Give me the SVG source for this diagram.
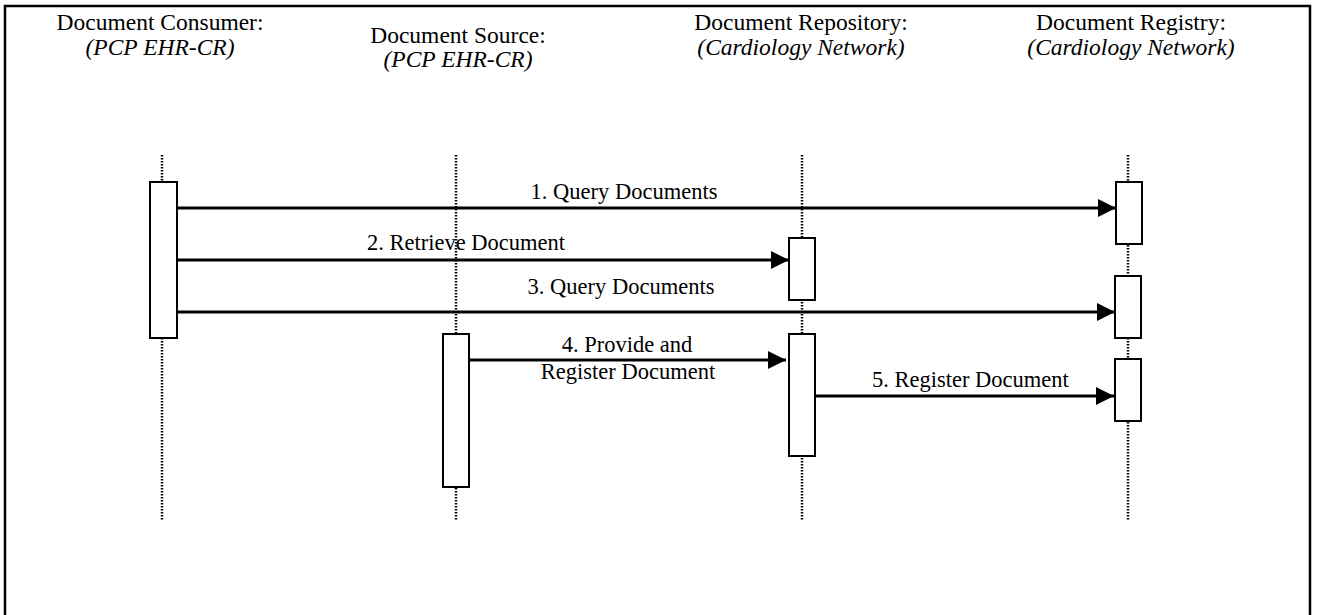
<svg xmlns="http://www.w3.org/2000/svg" width="1318" height="615" viewBox="0 0 1318 615">
<style>
.hd{font-family:"Liberation Serif","Times New Roman",serif;font-size:23.5px;fill:#000;text-anchor:middle}
.it{font-style:italic}
.lb{font-family:"Liberation Serif","Times New Roman",serif;font-size:22.5px;fill:#000}
.life{stroke:#000;stroke-width:2.5;stroke-dasharray:1.6 1.4;fill:none}
.act{fill:#fff;stroke:#000;stroke-width:2}
.msg{stroke:#000;stroke-width:3;fill:none;marker-end:url(#ah)}
</style>
<defs>
<marker id="ah" markerUnits="userSpaceOnUse" viewBox="0 0 18 18" refX="18" refY="9" markerWidth="18" markerHeight="18" orient="auto">
<path d="M0,0 L18,9 L0,18 z" fill="#000"/>
</marker>
</defs>
<rect width="1318" height="615" fill="#fff"/>
<path d="M5,615 V6 H1310 V615" fill="none" stroke="#000" stroke-width="2.5"/>

<g id="consumer">
<text class="hd" x="160" y="30">Document Consumer:</text>
<text class="hd it" x="160" y="55">(PCP EHR-CR)</text>
<line class="life" x1="162" y1="155" x2="162" y2="520"/>
<rect class="act" x="150" y="182" width="27" height="156"/>
</g>
<g id="source">
<text class="hd" x="458" y="43">Document Source:</text>
<text class="hd it" x="458" y="67">(PCP EHR-CR)</text>
<line class="life" x1="456" y1="155" x2="456" y2="520"/>
<rect class="act" x="443" y="334" width="26" height="153"/>
</g>
<g id="repository">
<text class="hd" x="801" y="30">Document Repository:</text>
<text class="hd it" x="801" y="55">(Cardiology Network)</text>
<line class="life" x1="802" y1="155" x2="802" y2="520"/>
<rect class="act" x="789" y="238" width="26" height="62"/>
<rect class="act" x="789" y="334" width="26" height="122"/>
</g>
<g id="registry">
<text class="hd" x="1131" y="30">Document Registry:</text>
<text class="hd it" x="1131" y="55">(Cardiology Network)</text>
<line class="life" x1="1128" y1="155" x2="1128" y2="520"/>
<rect class="act" x="1116" y="182" width="26" height="62"/>
<rect class="act" x="1115" y="276" width="26" height="62"/>
<rect class="act" x="1115" y="359" width="26" height="62"/>
</g>

<g id="connectors">
<line class="msg" x1="177" y1="208" x2="1116" y2="208"/>
<text class="lb" x="624" y="199" text-anchor="middle">1. Query Documents</text>
<line class="msg" x1="177" y1="260" x2="789" y2="260"/>
<text class="lb" x="367" y="250">2. Retrieve Document</text>
<line class="msg" x1="177" y1="312" x2="1115" y2="312"/>
<text class="lb" x="621" y="294" text-anchor="middle">3. Query Documents</text>
<line class="msg" x1="469" y1="360" x2="786" y2="360"/>
<text class="lb" x="627" y="352" text-anchor="middle">4. Provide and</text>
<text class="lb" x="628" y="379" text-anchor="middle">Register Document</text>
<line class="msg" x1="815" y1="396" x2="1114" y2="396"/>
<text class="lb" x="872" y="387">5. Register Document</text>
</g>
</svg>
